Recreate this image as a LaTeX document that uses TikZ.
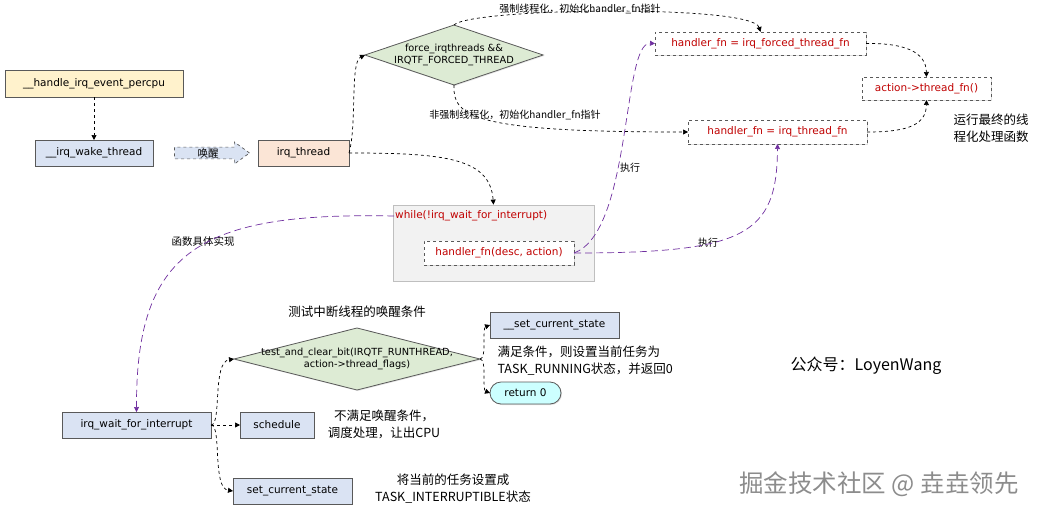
\documentclass[tikz,border=0pt]{standalone}
\usepackage{fontspec}
\setmainfont{DejaVu Sans}
\newfontfamily\cjk{Noto Sans CJK SC}
\usepackage{xcolor}
\definecolor{fnred}{RGB}{192,0,0}
\definecolor{callpurple}{RGB}{112,48,160}
\definecolor{edgegray}{RGB}{89,89,89}
\definecolor{boxyellow}{RGB}{255,242,204}
\definecolor{boxblue}{RGB}{218,227,243}
\definecolor{boxpeach}{RGB}{251,229,214}
\definecolor{boxgreen}{RGB}{221,235,212}
\definecolor{boxcyan}{RGB}{204,255,255}
\definecolor{loopgray}{RGB}{242,242,242}
\usetikzlibrary{arrows.meta,positioning,shapes.geometric,shapes.arrows,shadows}

\begin{document}
\begin{tikzpicture}[x=1pt,y=-1pt,
  box/.style={draw=edgegray,line width=0.8pt,minimum height=26pt,inner sep=2pt,outer sep=0pt,
    font=\fontsize{10.5}{12}\selectfont,
    drop shadow={shadow xshift=1pt,shadow yshift=-1pt,opacity=0.25}},
  fnbox/.style={box,dashed,fill=white,text=fnred,minimum height=23pt},
  cond/.style={diamond,draw=edgegray,line width=0.8pt,fill=boxgreen,inner sep=0pt,outer sep=0pt,
    drop shadow={shadow xshift=1pt,shadow yshift=-1pt,opacity=0.2}},
  condtext/.style={font=\fontsize{9.8}{12.5}\selectfont,align=center},
  note/.style={font=\cjk\fontsize{12.5}{17}\selectfont,align=left},
  tag/.style={font=\cjk\fontsize{10}{11}\selectfont,fill=white,inner sep=1pt},
  flow/.style={dashed,line width=0.7pt,-{Triangle[length=5pt,width=5pt]}},
  call/.style={callpurple,line width=0.7pt,dash pattern=on 7pt off 4pt,
    -{Triangle[length=5pt,width=5pt]}}
]
  \useasboundingbox (0,0) rectangle (1038,514);
  % wake-up side
  \node[box,fill=boxyellow,minimum width=178pt,minimum height=27pt] (percpu) at (94,83.5) {\_\_handle\_irq\_event\_percpu};
  \node[box,fill=boxblue,minimum width=118pt] (wake) at (94,153) {\_\_irq\_wake\_thread};
  \node[single arrow,draw=edgegray,dashed,fill=boxblue,line width=0.7pt,minimum height=75pt,
    minimum width=22pt,single arrow head extend=5pt,single arrow tip angle=72,
    inner xsep=2pt,inner ysep=0.5pt,font=\cjk\fontsize{10.5}{11}\selectfont] (wakeup) at (208,153) {唤醒};
  \node[box,fill=boxpeach,minimum width=91pt] (irqthread) at (303.5,153) {irq\_thread};
  % handler selection
  \node[cond,minimum width=178pt,minimum height=60pt] (force) at (454,55) {};
  \node[condtext] at (force) {force\_irqthreads \&\&\\IRQTF\_FORCED\_THREAD};
  \node[fnbox,minimum width=211pt] (forced) at (760.5,43.5) {handler\_fn = irq\_forced\_thread\_fn};
  \node[fnbox,minimum width=129pt] (action) at (926.5,88.5) {action->thread\_fn()};
  \node[fnbox,minimum width=179pt,minimum height=24pt] (threadfn) at (777.5,132) {handler\_fn = irq\_thread\_fn};
  \node[note] at (991,128) {运行最终的线\\程化处理函数};
  % thread loop
  \node[draw=black!25,fill=loopgray,line width=0.8pt,minimum width=201pt,minimum height=76pt,
    drop shadow={shadow xshift=1pt,shadow yshift=-1pt,fill=blue!30,opacity=0.3}] (loop) at (493.5,243) {};
  \node[anchor=west,text=fnred,inner sep=1pt,font=\fontsize{10.5}{12}\selectfont] (whiletxt) at (394,216) {while(!irq\_wait\_for\_interrupt)};
  \node[fnbox,minimum width=150pt,minimum height=24pt] (caller) at (499,253) {handler\_fn(desc, action)};
  % labels
  \node[tag] at (580,9) {强制线程化，初始化handler\_fn指针};
  \node[tag] at (515,115) {非强制线程化，初始化handler\_fn指针};
  \node[tag] at (630,168) {执行};
  \node[tag] at (708,243) {执行};
  \node[tag,font=\cjk\fontsize{10.5}{11}\selectfont] at (203,241) {函数具体实现};
  % wait for interrupt
  \node[box,fill=boxblue,minimum width=149pt] (waitint) at (136.5,425) {irq\_wait\_for\_interrupt};
  \node[cond,minimum width=246pt,minimum height=62pt] (test) at (357,359) {};
  \node[condtext] at (test) {test\_and\_clear\_bit(IRQTF\_RUNTHREAD,\\action->thread\_flags)};
  \node[note] at (357,312) {测试中断线程的唤醒条件};
  \node[box,fill=boxblue,minimum width=129pt] (setcur) at (554.5,325) {\_\_set\_current\_state};
  \node[note,anchor=west] at (494,361) {满足条件，则设置当前任务为\\TASK\_RUNNING状态，并返回0};
  \node[box,fill=boxcyan,rounded corners=11pt,minimum width=71pt,minimum height=22pt] (ret) at (525.5,393) {return 0};
  \node[box,fill=boxblue,minimum width=74pt] (schedule) at (277,425) {schedule};
  \node[note,align=center] at (384,424) {不满足唤醒条件，\\调度处理，让出CPU};
  \node[box,fill=boxblue,minimum width=119pt] (setstate) at (292.5,491) {set\_current\_state};
  \node[note,align=center] at (453,489) {将当前的任务设置成\\TASK\_INTERRUPTIBLE状态};
  % credits
  \node[font=\cjk\fontsize{16}{18}\selectfont] at (866,366) {公众号：LoyenWang};
  \node[font=\cjk\fontsize{24.5}{26}\selectfont,text=black!45] at (879,484) {掘金技术社区 @ 垚垚领先};
  % connectors
  \draw[flow] (percpu) -- (wake);
  \draw[flow] (irqthread.east) .. controls (357,125) and (350,62) .. (force.west);
  \draw[flow] (irqthread.east) .. controls (445,153) and (490,158) .. (loop.north);
  \draw[flow] (force.north) .. controls (470,8) and (752,4) .. (forced.north);
  \draw[flow] (force.south) .. controls (452,118) and (478,132) .. (threadfn.west);
  \draw[flow] (forced.east) .. controls (905,43) and (926,52) .. (action.north);
  \draw[flow] (threadfn.east) .. controls (910,132) and (926,124) .. (action.south);
  \draw[call] (caller.east) .. controls (632,232) and (622,42) .. (forced.west);
  \draw[call] (caller.east) .. controls (745,253) and (777,235) .. (threadfn.south);
  \draw[call] (whiletxt.west) .. controls (200,212) and (136,250) .. (waitint.north);
  \draw[flow] (waitint.east) .. controls (222,425) and (212,362) .. (test.west);
  \draw[flow] (waitint.east) -- (schedule.west);
  \draw[flow] (waitint.east) .. controls (222,425) and (212,488) .. (setstate.west);
  \draw[flow] (test.east) .. controls (487,359) and (482,328) .. (setcur.west);
  \draw[flow] (test.east) .. controls (487,359) and (482,390) .. (ret.west);
\end{tikzpicture}
\end{document}
